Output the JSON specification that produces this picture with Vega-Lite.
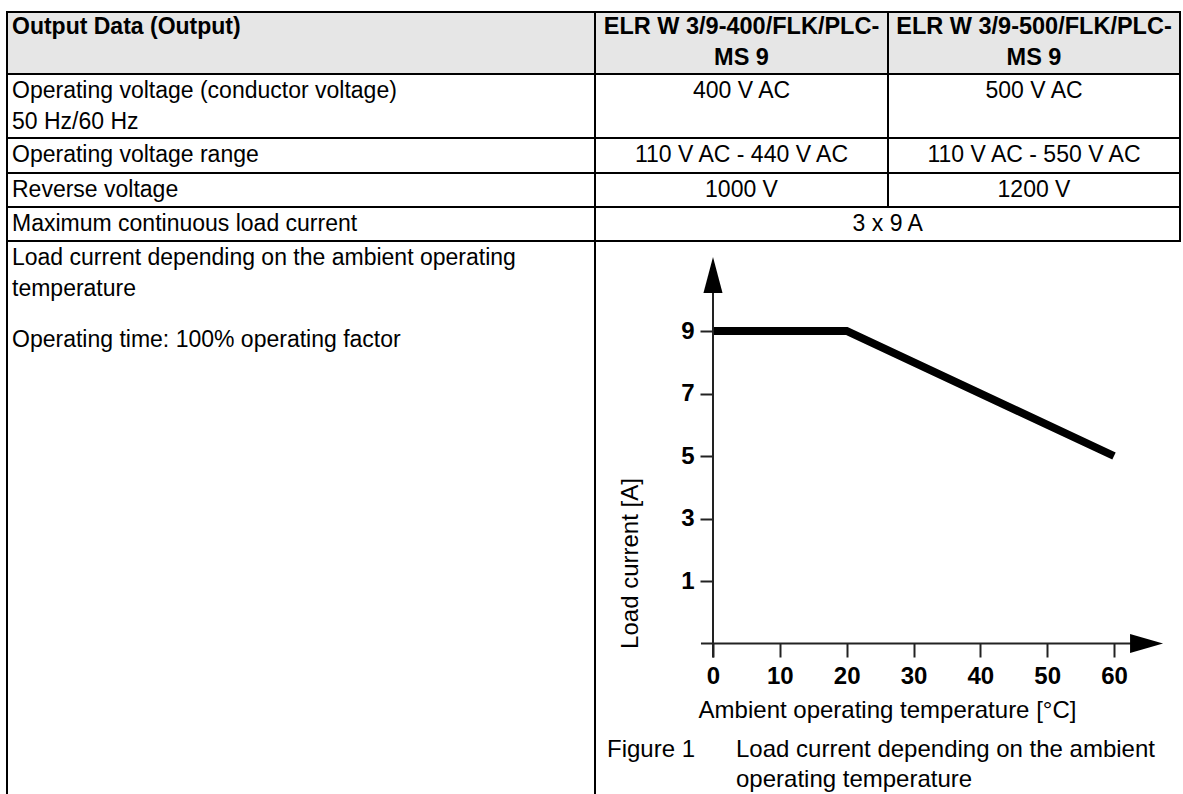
{
  "$schema": "https://vega.github.io/schema/vega-lite/v6.json",
  "width": 1183,
  "height": 794,
  "padding": 0,
  "autosize": {"type": "none"},
  "background": "white",
  "config": {"view": {"stroke": null}, "font": "Liberation Sans"},
  "datasets": {
    "header": [{"c0": 0, "c1": 3, "r0": 0, "r1": 1}],
    "grid_h": [
      {"row": 0, "c0": 0, "c1": 3},
      {"row": 1, "c0": 0, "c1": 3},
      {"row": 2, "c0": 0, "c1": 3},
      {"row": 3, "c0": 0, "c1": 3},
      {"row": 4, "c0": 0, "c1": 3},
      {"row": 5, "c0": 0, "c1": 3}
    ],
    "grid_v": [
      {"col": 0, "r0": 0, "r1": 6},
      {"col": 1, "r0": 0, "r1": 6},
      {"col": 2, "r0": 0, "r1": 4},
      {"col": 3, "r0": 0, "r1": 5}
    ],
    "head_left": [{"text": "Output Data (Output)", "pos": 0, "line": 0}],
    "head_center": [
      {"text": "ELR W 3/9-400/FLK/PLC-", "pos": 3, "line": 0},
      {"text": "MS 9", "pos": 3, "line": 1},
      {"text": "ELR W 3/9-500/FLK/PLC-", "pos": 4, "line": 0},
      {"text": "MS 9", "pos": 4, "line": 1}
    ],
    "labels": [
      {"text": "Operating voltage (conductor voltage)", "pos": 0, "line": 2},
      {"text": "50 Hz/60 Hz", "pos": 0, "line": 3},
      {"text": "Operating voltage range", "pos": 0, "line": 4},
      {"text": "Reverse voltage", "pos": 0, "line": 5},
      {"text": "Maximum continuous load current", "pos": 0, "line": 6},
      {"text": "Load current depending on the ambient operating", "pos": 0, "line": 7},
      {"text": "temperature", "pos": 0, "line": 8},
      {"text": "Operating time: 100% operating factor", "pos": 0, "line": 9}
    ],
    "caption": [
      {"text": "Figure 1", "pos": 1, "line": 10},
      {"text": "Load current depending on the ambient", "pos": 2, "line": 10},
      {"text": "operating temperature", "pos": 2, "line": 11}
    ],
    "values": [
      {"text": "400 V AC", "pos": 3, "line": 2},
      {"text": "500 V AC", "pos": 4, "line": 2},
      {"text": "110 V AC - 440 V AC", "pos": 3, "line": 4},
      {"text": "110 V AC - 550 V AC", "pos": 4, "line": 4},
      {"text": "1000 V", "pos": 3, "line": 5},
      {"text": "1200 V", "pos": 4, "line": 5},
      {"text": "3 x 9 A", "pos": 3.5, "line": 6}
    ],
    "curve": [
      {"temp": 0, "current": 9},
      {"temp": 20, "current": 9},
      {"temp": 60, "current": 5}
    ]
  },
  "layer": [
    {
      "layer": [
        {
          "data": {"name": "header"},
          "mark": {"type": "rect", "fill": "#e6e6e6"},
          "encoding": {
            "x": {"field": "c0", "type": "quantitative", "scale": {"domain": [0, 1, 2, 3], "range": [7, 595, 888, 1180], "zero": false, "nice": false}, "axis": null},
            "x2": {"field": "c1"},
            "y": {"field": "r0", "type": "quantitative", "scale": {"domain": [0, 1, 2, 3, 4, 5, 6], "range": [12, 74, 138, 173, 207, 241, 794], "zero": false, "nice": false}, "axis": null},
            "y2": {"field": "r1"}
          }
        },
        {
          "data": {"name": "grid_h"},
          "mark": {"type": "rule", "color": "black", "strokeWidth": 2, "strokeCap": "square"},
          "encoding": {
            "x": {"field": "c0", "type": "quantitative", "axis": null},
            "x2": {"field": "c1"},
            "y": {"field": "row", "type": "quantitative", "axis": null}
          }
        },
        {
          "data": {"name": "grid_v"},
          "mark": {"type": "rule", "color": "black", "strokeWidth": 2, "strokeCap": "square"},
          "encoding": {
            "x": {"field": "col", "type": "quantitative", "axis": null},
            "y": {"field": "r0", "type": "quantitative", "axis": null},
            "y2": {"field": "r1"}
          }
        }
      ]
    },
    {
      "layer": [
        {
          "data": {"name": "head_left"},
          "mark": {"type": "text", "align": "left", "baseline": "middle", "fontSize": 23, "fontWeight": "bold", "font": "Liberation Sans", "color": "black"},
          "encoding": {
            "x": {"field": "pos", "type": "quantitative", "scale": {"domain": [0, 1, 2, 3, 4], "range": [12, 607, 736, 741.5, 1034], "zero": false, "nice": false}, "axis": null},
            "y": {"field": "line", "type": "quantitative", "scale": {"domain": [0, 1, 2, 3, 4, 5, 6, 7, 8, 9, 10, 11], "range": [27, 58, 91, 122, 155, 190, 224, 258, 289, 340, 750, 780], "zero": false, "nice": false}, "axis": null},
            "text": {"field": "text"}
          }
        },
        {
          "data": {"name": "head_center"},
          "mark": {"type": "text", "align": "center", "baseline": "middle", "fontSize": 23.5, "fontWeight": "bold", "font": "Liberation Sans", "color": "black"},
          "encoding": {
            "x": {"field": "pos", "type": "quantitative", "axis": null},
            "y": {"field": "line", "type": "quantitative", "axis": null},
            "text": {"field": "text"}
          }
        },
        {
          "data": {"name": "labels"},
          "mark": {"type": "text", "align": "left", "baseline": "middle", "fontSize": 23, "font": "Liberation Sans", "color": "black"},
          "encoding": {
            "x": {"field": "pos", "type": "quantitative", "axis": null},
            "y": {"field": "line", "type": "quantitative", "axis": null},
            "text": {"field": "text"}
          }
        },
        {
          "data": {"name": "caption"},
          "mark": {"type": "text", "align": "left", "baseline": "middle", "fontSize": 24, "font": "Liberation Sans", "color": "black"},
          "encoding": {
            "x": {"field": "pos", "type": "quantitative", "axis": null},
            "y": {"field": "line", "type": "quantitative", "axis": null},
            "text": {"field": "text"}
          }
        },
        {
          "data": {"name": "values"},
          "mark": {"type": "text", "align": "center", "baseline": "middle", "fontSize": 23, "font": "Liberation Sans", "color": "black"},
          "encoding": {
            "x": {"field": "pos", "type": "quantitative", "axis": null},
            "y": {"field": "line", "type": "quantitative", "axis": null},
            "text": {"field": "text"}
          }
        }
      ]
    },
    {
      "layer": [
        {
          "data": {"name": "curve"},
          "mark": {"type": "line", "color": "black", "strokeWidth": 8, "strokeJoin": "miter", "strokeCap": "butt"},
          "encoding": {
            "x": {
              "field": "temp", "type": "quantitative",
              "scale": {"domain": [0, 60], "range": [713, 1114], "zero": false, "nice": false},
              "axis": {
                "values": [0, 10, 20, 30, 40, 50, 60], "format": "d", "domain": false, "grid": false,
                "tickSize": 14, "tickWidth": 2, "tickColor": "#222",
                "labelFont": "Liberation Sans", "labelFontSize": 24, "labelFontWeight": "bold", "labelColor": "black",
                "labelPadding": 7, "labelFlush": false, "labelOverlap": false, "offset": -151,
                "title": "Ambient operating temperature [°C]", "titleFont": "Liberation Sans", "titleFontSize": 24,
                "titleFontWeight": "normal", "titleColor": "black", "titleX": 887, "titleY": 67,
                "titleAlign": "center", "titleBaseline": "middle",
                "encode": {"labels": {"update": {"dx": {"signal": "datum.value === 0 ? -6 : 0"}}}}
              }
            },
            "y": {
              "field": "current", "type": "quantitative",
              "scale": {"domain": [0, 10], "range": [612.25, 299.75], "zero": false, "nice": false},
              "axis": {
                "values": [1, 3, 5, 7, 9], "format": "d", "domain": false, "grid": false,
                "tickSize": 13, "tickWidth": 2, "tickColor": "#222",
                "labelFont": "Liberation Sans", "labelFontSize": 24, "labelFontWeight": "bold", "labelColor": "black",
                "labelPadding": 6, "labelFlush": false, "labelOverlap": false, "offset": -713,
                "title": "Load current [A]", "titleFont": "Liberation Sans", "titleFontSize": 24,
                "titleFontWeight": "normal", "titleColor": "black", "titleX": -83, "titleY": 563,
                "titleAngle": 270, "titleAlign": "center", "titleBaseline": "middle"
              }
            }
          }
        },
        {
          "data": {"values": [{}]},
          "mark": {"type": "rule", "color": "#222", "strokeWidth": 2},
          "encoding": {
            "x": {"datum": 0, "type": "quantitative"},
            "y": {"datum": -1.45, "type": "quantitative"},
            "y2": {"datum": 10.8}
          }
        },
        {
          "data": {"values": [{}]},
          "mark": {"type": "rule", "color": "#222", "strokeWidth": 2},
          "encoding": {
            "x": {"datum": -1.8, "type": "quantitative"},
            "x2": {"datum": 63},
            "y": {"datum": -1, "type": "quantitative"}
          }
        },
        {
          "data": {"values": [{}]},
          "mark": {"type": "point", "shape": "M0,-1L0.53,1L-0.53,1Z", "size": 1296, "filled": true, "color": "black", "opacity": 1, "strokeWidth": 0},
          "encoding": {
            "x": {"datum": 0, "type": "quantitative"},
            "y": {"datum": 10.79, "type": "quantitative"}
          }
        },
        {
          "data": {"values": [{}]},
          "mark": {"type": "point", "shape": "M1,0L-1,0.58L-1,-0.58Z", "size": 1089, "filled": true, "color": "black", "opacity": 1, "strokeWidth": 0},
          "encoding": {
            "x": {"datum": 64.87, "type": "quantitative"},
            "y": {"datum": -1, "type": "quantitative"}
          }
        }
      ]
    }
  ],
  "resolve": {"scale": {"x": "independent", "y": "independent"}, "axis": {"x": "independent", "y": "independent"}}
}
